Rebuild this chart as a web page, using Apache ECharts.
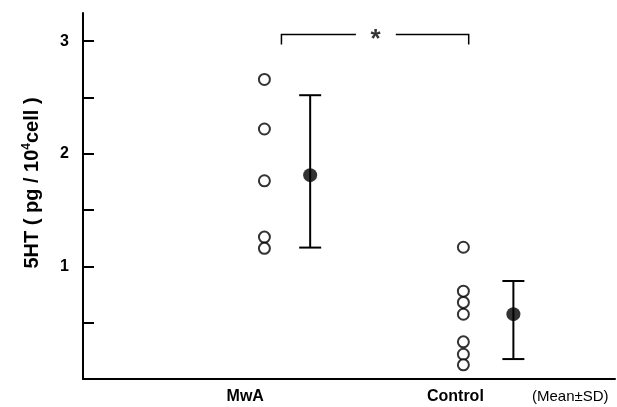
<!DOCTYPE html>
<html>
<head>
<meta charset="utf-8">
<script src="https://cdn.jsdelivr.net/npm/echarts@6/dist/echarts.min.js"></script>
<style>
html,body{margin:0;padding:0;background:#fff;}
#c{width:617px;height:407px;}
</style>
</head>
<body>
<div id="c"></div>
<script>
// ---- data ----
const groupNames = ['MwA', 'Control'];
const noteLabel = '(Mean±SD)';
const yTickLabels = [1, 2, 3];
const mwaValues = [2.66, 2.22, 1.76, 1.26, 1.16];
const controlValues = [1.17, 0.78, 0.68, 0.575, 0.33, 0.22, 0.126];
const means = [1.81, 0.576];
const sdUpper = [2.52, 0.87];
const sdLower = [1.167, 0.177];
const significance = '*';

// horizontal placement of groups on the hidden x value axis (0..100)
const pointX = [34.1, 71.5];
const barX = [42.7, 80.9];
const labelX = [30.5, 70.0, 91.6];
const bracket = {left: 37.3, right: 72.5, top: 3.06, bottom: 2.97, gapL: 51.3, gapR: 58.8, starX: 55.0, starY: 3.06};

const font = 'Liberation Sans, Arial, sans-serif';

const chart = echarts.init(document.getElementById('c'), null, {renderer: 'canvas'});

const scatterData = [
  ...mwaValues.map(v => [pointX[0], v]),
  ...controlValues.map(v => [pointX[1], v])
];
const meanData = means.map((m, i) => [barX[i], m]);
const errData = means.map((m, i) => [barX[i], sdLower[i], sdUpper[i]]);

const labelMap = {};
labelMap[labelX[0]] = '{b|' + groupNames[0] + '}';
labelMap[labelX[1]] = '{b|' + groupNames[1] + '}';
labelMap[labelX[2]] = '{n|' + noteLabel + '}';

chart.setOption({
  animation: false,
  backgroundColor: '#fff',
  grid: {left: 83, right: 2, top: 13, bottom: 28},
  xAxis: {
    type: 'value', min: 0, max: 100,
    splitLine: {show: false},
    axisLine: {show: true, onZero: false, lineStyle: {color: '#000', width: 2}},
    axisTick: {show: false},
    axisLabel: {
      show: true, margin: 10,
      customValues: labelX,
      formatter: v => labelMap[v] || '',
      rich: {
        b: {fontFamily: font, fontWeight: 'bold', fontSize: 16, color: '#000'},
        n: {fontFamily: font, fontSize: 15, color: '#000'}
      }
    }
  },
  yAxis: {
    type: 'value', min: 0, max: 3.25,
    splitLine: {show: false},
    axisLine: {show: true, onZero: false, lineStyle: {color: '#000', width: 2}},
    axisTick: {show: true, inside: true, length: 11, lineStyle: {color: '#000', width: 2},
      customValues: [0.5, 1, 1.5, 2, 2.5, 3]},
    axisLabel: {show: true, margin: 14, customValues: yTickLabels,
      fontFamily: font, fontWeight: 'bold', fontSize: 16, color: '#000'}
  },
  graphic: [{
    type: 'text', x: 32, y: 183, rotation: Math.PI / 2,
    style: {
      text: '{a|5HT ( pg / 10}{s|4}{a|cell )}',
      align: 'center', verticalAlign: 'middle',
      rich: {
        a: {fontFamily: font, fontWeight: 'bold', fontSize: 20, fill: '#000', lineHeight: 22},
        s: {fontFamily: font, fontWeight: 'bold', fontSize: 12, fill: '#000', verticalAlign: 'top', lineHeight: 22, padding: [0, 0, 9, 0]}
      }
    }
  }],
  series: [
    {
      type: 'scatter', data: scatterData, symbol: 'circle', symbolSize: 11,
      itemStyle: {color: '#fff', borderColor: '#000', borderWidth: 2}, z: 3
    },
    {
      type: 'custom', data: errData, z: 2,
      renderItem: function (params, api) {
        const x = api.value(0);
        const lo = api.coord([x, api.value(1)]);
        const hi = api.coord([x, api.value(2)]);
        const w = 11;
        const st = {stroke: '#000', lineWidth: 2};
        return {type: 'group', children: [
          {type: 'line', shape: {x1: lo[0], y1: lo[1], x2: hi[0], y2: hi[1]}, style: st},
          {type: 'line', shape: {x1: hi[0] - w, y1: hi[1], x2: hi[0] + w, y2: hi[1]}, style: st},
          {type: 'line', shape: {x1: lo[0] - w, y1: lo[1], x2: lo[0] + w, y2: lo[1]}, style: st}
        ]};
      }
    },
    {
      type: 'scatter', data: meanData, symbol: 'circle', symbolSize: 14,
      itemStyle: {color: '#000'}, z: 4
    },
    {
      type: 'custom', data: [[bracket.left, bracket.bottom, bracket.top, bracket.gapL, bracket.gapR, bracket.right]],
      renderItem: function (params, api) {
        const a = api.coord([api.value(0), api.value(1)]);
        const b = api.coord([api.value(0), api.value(2)]);
        const c = api.coord([api.value(3), api.value(2)]);
        const d = api.coord([api.value(4), api.value(2)]);
        const e = api.coord([api.value(5), api.value(2)]);
        const f = api.coord([api.value(5), api.value(1)]);
        const st = {stroke: '#000', lineWidth: 1.5, fill: null};
        return {type: 'group', children: [
          {type: 'polyline', shape: {points: [a, b, c]}, style: st},
          {type: 'polyline', shape: {points: [d, e, f]}, style: st}
        ]};
      }
    },
    {
      type: 'scatter', data: [[bracket.starX, bracket.starY]], symbolSize: 0,
      label: {show: true, position: 'inside', formatter: significance,
        fontFamily: font, fontWeight: 'bold', fontSize: 26, color: '#000', offset: [0, 5]}
    }
  ]
});
</script>
</body>
</html>
